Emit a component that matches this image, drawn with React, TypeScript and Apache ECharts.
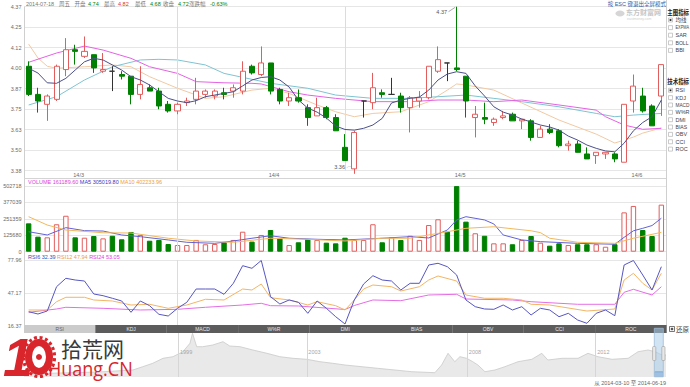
import React, { useEffect, useRef } from 'react';
import * as echarts from 'echarts';

// ---------------- data ----------------
const categories = [
  '2014-02-24','2014-02-25','2014-02-26','2014-02-27','2014-02-28',
  '2014-03-03','2014-03-04','2014-03-05','2014-03-06','2014-03-07',
  '2014-03-10','2014-03-11','2014-03-12','2014-03-13','2014-03-14',
  '2014-03-17','2014-03-18','2014-03-19','2014-03-20','2014-03-21',
  '2014-03-24','2014-03-25','2014-03-26','2014-03-27','2014-03-28',
  '2014-03-31',
  '2014-04-01','2014-04-02','2014-04-03','2014-04-04','2014-04-08','2014-04-09','2014-04-10','2014-04-11',
  '2014-04-14','2014-04-15','2014-04-16','2014-04-17','2014-04-18',
  '2014-04-21','2014-04-22','2014-04-23','2014-04-24','2014-04-25',
  '2014-04-28','2014-04-29',
  '2014-05-05','2014-05-06','2014-05-07','2014-05-08','2014-05-09',
  '2014-05-12','2014-05-13','2014-05-14','2014-05-15','2014-05-16',
  '2014-05-19','2014-05-20','2014-05-21','2014-05-22','2014-05-23',
  '2014-05-26','2014-05-27','2014-05-28','2014-05-29',
  '2014-06-03','2014-06-04','2014-06-05','2014-06-06',
];

// [open, close, low, high]
const candles: number[][] = [
  [4.01,3.84,3.83,4.04],[3.84,3.80,3.73,3.88],[3.78,3.83,3.68,3.84],[3.81,4.01,3.80,4.02],[3.99,4.11,3.95,4.18],
  [4.11,4.10,4.02,4.14],[4.07,4.10,4.06,4.19],[4.08,4.00,3.97,4.08],[3.98,3.99,3.97,4.09],[3.98,3.98,3.86,4.01],
  [3.96,3.95,3.93,3.98],[3.95,3.84,3.78,3.95],[3.84,3.90,3.81,4.01],[3.88,3.86,3.86,3.90],[3.86,3.77,3.75,3.88],
  [3.78,3.74,3.73,3.80],[3.74,3.78,3.72,3.79],[3.79,3.80,3.77,3.82],[3.81,3.86,3.78,3.94],[3.84,3.86,3.82,3.87],
  [3.83,3.86,3.81,3.87],[3.85,3.84,3.81,3.88],[3.86,3.88,3.82,3.90],[3.86,3.98,3.84,4.04],[4.01,3.97,3.96,4.02],
  [3.96,4.03,3.95,4.13],[4.03,3.86,3.84,4.03],[3.87,3.80,3.78,3.88],[3.80,3.82,3.77,3.85],[3.82,3.80,3.79,3.87],
  [3.76,3.70,3.65,3.78],[3.71,3.76,3.71,3.82],[3.76,3.70,3.69,3.77],[3.70,3.62,3.62,3.72],[3.52,3.44,3.44,3.60],
  [3.39,3.61,3.36,3.62],[3.80,3.80,3.70,3.80],[3.79,3.88,3.75,3.97],[3.85,3.84,3.82,3.87],[3.84,3.84,3.84,3.94],
  [3.83,3.76,3.73,3.85],[3.76,3.82,3.61,3.83],[3.80,3.82,3.76,3.86],[3.82,4.01,3.81,4.01],[3.98,4.05,3.97,4.13],
  [4.03,4.03,3.92,4.03],[4.00,3.99,3.98,4.37],[3.95,3.80,3.70,3.95],[3.70,3.72,3.58,3.77],[3.70,3.69,3.66,3.79],
  [3.67,3.69,3.65,3.70],[3.70,3.71,3.69,3.74],[3.72,3.68,3.68,3.73],[3.68,3.69,3.63,3.69],[3.68,3.58,3.56,3.69],
  [3.58,3.63,3.58,3.65],[3.63,3.61,3.60,3.66],[3.62,3.53,3.52,3.63],[3.53,3.54,3.50,3.56],[3.54,3.49,3.49,3.56],
  [3.48,3.45,3.45,3.52],[3.47,3.49,3.42,3.49],[3.48,3.49,3.45,3.49],[3.48,3.45,3.43,3.49],[3.43,3.78,3.43,3.78],
  [3.80,3.89,3.73,3.96],[3.83,3.74,3.73,3.88],[3.77,3.65,3.65,3.78],[3.83,4.02,3.71,4.02],
];
const flatDays = [9, 36, 39, 45];

const volumes = [
  217000,115000,110000,210000,275000,110000,107000,120000,102000,122000,
  95000,151000,128000,84000,90000,59000,51000,51000,90000,57000,
  59000,72000,90000,153000,77000,128000,166000,102000,51000,72000,
  97000,90000,69000,64000,107000,90000,90000,210000,72000,110000,
  90000,122000,90000,204000,248000,153000,502000,230000,141000,122000,
  64000,64000,57000,90000,120000,69000,46000,64000,51000,57000,
  57000,57000,38000,57000,301000,350000,166000,120000,360000,
];
const volumeSide = ('ggrrrgrgrg' + 'ggrgggrrrr' + 'rgrrgrggrg' + 'grgggrrrgr' + 'grrrrgggrg' + 'rrgrgrggrg' + 'grrgrrggr').split('');

const ma5 = [
  3.998,3.969,3.910,3.907,3.937,3.987,4.037,4.058,4.048,4.018,
  3.987,3.947,3.927,3.897,3.856,3.816,3.800,3.790,3.802,3.826,
  3.836,3.846,3.856,3.891,3.927,3.942,3.947,3.927,3.884,3.806,
  3.757,3.733,3.697,3.649,3.628,3.624,3.635,3.655,3.695,3.788,
  3.806,3.816,3.824,3.866,3.927,3.963,3.977,3.967,3.891,3.830,
  3.765,3.733,3.715,3.691,3.673,3.655,3.643,3.624,3.588,3.564,
  3.534,3.514,3.498,3.493,3.545,3.620,3.670,3.705,3.806,
];
const ma10 = [[0,4.144],[1,4.06],[2,4.01],[3,3.998],[6,4.007],[9,4.018],[11,4.007],[13,3.947],[16,3.877],[19,3.816],[21,3.826],[24,3.866],[26,3.877],[28,3.846],[31,3.776],[33,3.735],[35,3.705],[37,3.725],[40,3.735],[43,3.796],[45,3.866],[46,3.903],[47,3.897],[50,3.866],[53,3.788],[57,3.685],[61,3.600],[63,3.546],[64,3.564],[65,3.582],[66,3.606],[68,3.637]];
const ma20 = [[0,3.776],[3,3.826],[6,3.927],[9,4.007],[12,4.048],[14,4.052],[16,4.048],[19,4.018],[21,3.967],[24,3.931],[26,3.907],[30,3.877],[33,3.836],[37,3.816],[41,3.816],[44,3.826],[47,3.836],[50,3.816],[53,3.796],[57,3.765],[61,3.725],[63,3.705],[65,3.715],[68,3.725]];
const ma30 = [[0,4.034],[3,4.090],[6,4.132],[8,4.108],[11,4.058],[13,4.007],[16,3.967],[18,3.917],[21,3.910],[24,3.907],[25,3.903],[28,3.856],[30,3.836],[33,3.816],[37,3.796],[41,3.796],[44,3.806],[47,3.806],[50,3.796],[53,3.806],[57,3.776],[61,3.745],[62,3.705],[64,3.655],[66,3.629],[68,3.635]];

const volMa5 = [[0,153000],[2,128000],[4,184000],[6,161000],[8,158000],[10,128000],[12,115000],[15,90000],[17,72000],[20,64000],[22,82000],[24,103000],[26,122000],[28,103000],[31,95000],[34,90000],[38,103000],[41,115000],[43,105000],[45,166000],[46,243000],[47,268000],[49,243000],[50,212000],[51,128000],[53,90000],[55,77000],[59,64000],[63,57000],[64,110000],[65,160000],[66,179000],[67,200000],[68,256000]];
const volMa10 = [[0,268000],[2,204000],[4,166000],[8,145000],[11,143000],[15,103000],[18,82000],[22,72000],[26,103000],[29,97000],[34,82000],[38,103000],[41,103000],[45,153000],[47,179000],[50,191000],[54,160000],[55,146000],[56,103000],[59,72000],[63,64000],[65,103000],[68,148000]];

const rsi6 = [
  29.35,27.18,30.0,52.85,60.75,59.15,58.21,45.99,44.39,41.95,
  39.41,28.78,39.41,34.99,26.90,25.30,32.54,38.19,50.69,50.69,
  50.69,45.71,56.05,72.60,70.16,77.5,43.45,36.59,40.35,38.19,
  27.84,39.41,32.54,24.64,17.78,40.35,55.39,63.20,59.15,58.21,
  49.75,56.05,56.05,73.26,74.86,71.66,63.86,40.35,34.05,31.89,
  31.60,35.65,30.95,34.05,26.25,32.54,30.95,24.64,27.84,21.54,
  18.44,27.84,30.95,25.58,73.26,77.5,63.86,49.75,71.66,
];
const rsi12 = [[0,30.95],[2,30.95],[3,38.75],[4,42.89],[6,42.89],[7,40.35],[9,39.41],[11,35.65],[13,36.31],[15,32.54],[17,35.65],[19,41.01],[21,40.35],[23,50.69],[24,49.75],[25,55.39],[26,42.51],[28,40.35],[30,35.65],[31,38.75],[33,34.99],[34,30.95],[35,40.35],[36,50.69],[37,54.45],[39,52.85],[40,48.81],[42,52.85],[43,59.15],[44,62.92],[46,58.21],[47,45.05],[49,41.95],[51,41.95],[53,40.35],[54,36.31],[56,35.65],[60,30.0],[63,31.89],[64,59.15],[65,65.45],[66,56.05],[67,49.75],[68,65.45]];
const rsi24 = [[0,28.78],[3,31.89],[4,33.49],[8,32.54],[12,30.95],[16,31.60],[19,33.49],[23,35.65],[25,37.24],[26,34.99],[29,34.71],[34,31.41],[35,35.17],[37,40.35],[40,39.69],[43,45.05],[46,45.71],[47,41.29],[52,40.35],[54,38.75],[59,36.31],[63,36.31],[64,47.59],[65,50.41],[67,45.05],[68,52.85]];

const priceTicks = ['3.38','3.50','3.63','3.75','3.87','4.00','4.12','4.25','4.37'];
const volumeTicks = ['0','125680','251359','377039','502718'];
const rsiTicks = ['16.37','47.17','77.96'];

// long-history navigator (year, level)
const navHistory = [[1994.19,3],[1995.3,4],[1996.5,5],[1997.58,7],[1997.89,10.3],[1998.2,13.7],[1998.52,18.7],[1998.83,20.3],[1999.14,25.3],[1999.36,33.7],[1999.44,43.7],[1999.57,30.3],[1999.76,30.3],[2000.07,32],[2000.39,35.3],[2000.6,31],[2000.92,30.3],[2001.32,27],[2001.76,23.7],[2002.16,20.3],[2002.57,18.7],[2003.0,17.7],[2003.41,15.3],[2003.81,13.7],[2004.19,12],[2005.21,8.7],[2006.27,5.3],[2006.99,4.3],[2007.2,12],[2007.4,23.7],[2007.61,15.3],[2007.77,20.3],[2007.98,18.7],[2008.17,15.3],[2008.33,12],[2008.55,5.3],[2008.86,7],[2009.17,10.3],[2009.58,15.3],[2010.01,17.7],[2010.32,23.7],[2010.51,17],[2010.95,18.7],[2011.45,18.7],[2011.76,23.7],[2012.07,20.3],[2012.51,17.7],[2013.01,18.7],[2013.32,25.3],[2013.63,27],[2013.85,25.3],[2014.07,22],[2014.19,22]];
const navYears = [1999, 2003, 2008, 2012];

const headerParts: [string, number, string][] = [
  ['2014-07-18', 26, '#777'], ['周五', 59, '#777'], ['开盘', 74.5, '#777'], ['4.74', 88, '#008000'],
  ['最高', 104, '#777'], ['4.82', 118, '#e03030'], ['最低', 135, '#777'], ['4.68', 150, '#008000'],
  ['收盘', 163, '#777'], ['4.72', 178, '#008000'], ['涨跌幅', 189, '#777'], ['-0.63%', 210, '#008000'],
];
const mainIndicators = ['均线', 'EXPMA', 'SAR', 'BOLL', 'BBI'];
const techIndicators = ['RSI', 'KDJ', 'MACD', 'W%R', 'DMI', 'BIAS', 'OBV', 'CCI', 'ROC'];

// ---------------- styling helpers ----------------
const SANS = '"Liberation Sans", "Noto Sans CJK SC", sans-serif';
const RED = '#e35d5d';
const GREEN = '#008000';

function txt(x: number, y: number, text: string, fill: string, size = 5.5, align = 'left', weight = 'normal', family = SANS, scaleX = 1): any {
  return {
    type: 'text', x, y, scaleX, silent: true, z: 20,
    style: { text, fill, font: `${weight} ${size}px ${family}`, align, verticalAlign: 'middle', textAlign: align, textVerticalAlign: 'middle' },
  };
}
function hline(x1: number, y1: number, x2: number, y2: number, stroke: string, w = 1): any {
  return { type: 'line', silent: true, z: 15, shape: { x1, y1, x2, y2 }, style: { stroke, lineWidth: w } };
}

function fitScale(text: string, size: number, room: number): number {
  let w = 0;
  for (const ch of text) w += /[\u4e00-\u9fff]/.test(ch) ? size : /[MW%]/.test(ch) ? size * 0.85 : size * 0.66;
  return Math.min(1, room / w);
}

function buildGraphic(): any[] {
  const g: any[] = [];
  headerParts.forEach(([t, x, c]) => g.push(txt(x, 3.8, t, c)));
  g.push(txt(666, 3.8, '按 ESC 键退出全屏模式', '#2a5caa', 5.5, 'right'));
  // eastmoney watermark
  g.push({ type: 'ellipse', silent: true, z: 5, shape: { cx: 620, cy: 13.5, rx: 4.5, ry: 3 }, style: { fill: '#d6d6d6' } });
  g.push(txt(626, 12.8, '东方财富网', '#c6c6c6', 7, 'left', 'bold'));
  g.push(txt(627, 18.6, 'eastmoney.com', '#cfcfcf', 3.5));
  // borders
  g.push(hline(24.5, 6.7, 24.5, 325, '#cfcfcf'));
  g.push(hline(666.5, 0, 666.5, 333, '#cfcfcf'));
  g.push(hline(24, 178.5, 666, 178.5, '#d4d4d4'));
  // volume header
  g.push({
    type: 'text', x: 28, y: 182.4, silent: true, z: 20,
    style: {
      text: '{a|VOLUME 161189.60} {b|MA5 305019.80} {c|MA10 402233.96}',
      font: `5.5px ${SANS}`, verticalAlign: 'middle', textVerticalAlign: 'middle',
      rich: { a: { fill: '#e040e0', color: '#e040e0' }, b: { fill: '#3838c8', color: '#3838c8' }, c: { fill: '#f0a030', color: '#f0a030' } },
    },
  });
  g.push({
    type: 'text', x: 28, y: 256.8, silent: true, z: 20,
    style: {
      text: '{a|RSI6 32.39} {b|RSI12 47.94} {c|RSI24 53.05}',
      font: `5.5px ${SANS}`, verticalAlign: 'middle', textVerticalAlign: 'middle',
      rich: { a: { fill: '#3050c0', color: '#3050c0' }, b: { fill: '#f0a030', color: '#f0a030' }, c: { fill: '#e040e0', color: '#e040e0' } },
    },
  });
  // right side panel
  const box = (y: number, checked: boolean) => {
    g.push({ type: 'rect', silent: true, z: 20, shape: { x: 668.5, y: y - 2, width: 4, height: 4 }, style: { fill: '#fff', stroke: '#a8a8a8', lineWidth: 0.6 } });
    if (checked) g.push({ type: 'rect', silent: true, z: 21, shape: { x: 669.6, y: y - 0.9, width: 1.8, height: 1.8 }, style: { fill: '#222' } });
  };
  g.push(txt(667.3, 13.3, '主图指标', '#222', 6.5, 'left', 'bold', SANS, fitScale('主图指标', 6.5, 21.8)));
  mainIndicators.forEach((t, i) => { const y = 20 + i * 7.6; box(y, i === 0); g.push(txt(675.5, y, t, '#444', 5.5, 'left', 'normal', SANS, fitScale(t, 5.5, 13.5))); });
  g.push(txt(667.3, 81.7, '技术指标', '#222', 6.5, 'left', 'bold', SANS, fitScale('技术指标', 6.5, 21.8)));
  techIndicators.forEach((t, i) => { const y = 90.3 + i * 7.35; box(y, i === 0); g.push(txt(675.5, y, t, '#444', 5.5, 'left', 'normal', SANS, fitScale(t, 5.5, 13.5))); });
  // tab bar
  const tw = 71.4;
  techIndicators.forEach((t, i) => {
    const x = 24 + i * tw;
    g.push({ type: 'rect', silent: true, z: 18, shape: { x, y: 325, width: tw, height: 8 }, style: { fill: i === 0 ? '#cbcbcb' : '#5c5c5c' } });
    g.push(txt(x + tw / 2, 329, t, i === 0 ? '#666' : '#e8e8e8', 5, 'center'));
    if (i > 0) g.push(hline(x + 0.5, 325, x + 0.5, 333, '#8c8c8c', 0.8));
  });
  g.push({ type: 'rect', silent: true, z: 20, shape: { x: 669.5, y: 326.5, width: 5, height: 5 }, style: { fill: '#fff', stroke: '#555', lineWidth: 0.8 } });
  g.push({ type: 'rect', silent: true, z: 21, shape: { x: 670.8, y: 327.8, width: 2.4, height: 2.4 }, style: { fill: '#555' } });
  g.push(txt(676, 329, '还原', '#444', 6.5));
  // navigator selection window
  g.push({ type: 'rect', silent: true, z: 30, shape: { x: 654.3, y: 328.3, width: 9, height: 48.5 }, style: { fill: 'rgba(170,205,235,0.55)', stroke: '#9dbbd8', lineWidth: 0.8 } });
  g.push({ type: 'rect', silent: true, z: 31, shape: { x: 654.6, y: 372, width: 8.4, height: 4.6 }, style: { fill: 'rgba(110,160,215,0.45)' } });
  g.push(hline(654.6, 371.8, 663, 371.8, '#4a7fc0', 1));
  g.push({ type: 'rect', silent: true, z: 32, shape: { x: 652.6, y: 346.5, width: 3.2, height: 14, r: 1 }, style: { fill: '#e8e8e8', stroke: '#9a9a9a', lineWidth: 0.6 } });
  g.push({ type: 'rect', silent: true, z: 32, shape: { x: 661.8, y: 346.5, width: 3.2, height: 14, r: 1 }, style: { fill: '#e8e8e8', stroke: '#9a9a9a', lineWidth: 0.6 } });
  g.push(txt(666, 383.4, '从 2014-03-10 至 2014-06-19', '#666', 5.5, 'right'));
  // site logo
  g.push({ type: 'text', x: 3, y: 357, silent: true, z: 40, style: { text: '1', fill: '#d8262c', font: `italic bold 54px "Liberation Sans"`, verticalAlign: 'middle', textVerticalAlign: 'middle' } });
  g.push({ type: 'ellipse', silent: true, z: 40, shape: { cx: 39, cy: 357, rx: 15.5, ry: 19.5 }, style: { fill: 'none', stroke: '#d8262c', lineWidth: 3.2, lineDash: [3, 2.6] } });
  g.push({ type: 'ellipse', silent: true, z: 40, shape: { cx: 39, cy: 357, rx: 10.5, ry: 14.5 }, style: { fill: 'none', stroke: '#d8262c', lineWidth: 7 } });
  g.push({ type: 'circle', silent: true, z: 41, shape: { cx: 39, cy: 357, r: 3 }, style: { fill: '#d8262c' } });
  g.push(txt(61, 348, '拾荒网', '#3a3a3a', 21, 'left', 'normal', '"Noto Sans CJK SC", sans-serif'));
  g.push({ type: 'text', x: 48, y: 368.5, scaleX: 0.9, silent: true, z: 40, style: { text: 'Huang.CN', fill: '#d8262c', font: `20px "Open Sans", sans-serif`, verticalAlign: 'middle', textVerticalAlign: 'middle' } });
  return g;
}

function helperAxis(gridIndex: number, ticks: string[]): any {
  return {
    type: 'value', gridIndex, position: 'left', min: 0, max: ticks.length - 1, interval: 1,
    axisLine: { show: false }, axisTick: { show: false },
    axisLabel: { formatter: (v: number) => ticks[Math.round(v)] ?? '', fontSize: 5.5, color: '#6a6a6a', margin: 2.5, fontFamily: 'Liberation Sans' },
    splitLine: { show: true, lineStyle: { color: '#e6e6e6', width: 1 } },
  };
}

function maLine(name: string, data: any[], color: string, xi: number, yi: number, z = 3): any {
  return { name, type: 'line', xAxisIndex: xi, yAxisIndex: yi, data, symbol: 'none', smooth: false, z, lineStyle: { color, width: 1 }, silent: true };
}

const dayGuide = (idxs: number[]) => ({
  silent: true, symbol: ['none', 'none'], label: { show: false },
  lineStyle: { color: '#dcdcdc', width: 1, type: 'solid' },
  data: idxs.map((i) => ({ xAxis: categories[i] })),
});

export default function App() {
  const ref = useRef<HTMLDivElement>(null);
  useEffect(() => {
    document.body.style.margin = '0';
    if (!ref.current) return;
    const chart = echarts.init(ref.current, undefined, { renderer: 'svg' });

    const priceMin = Number(priceTicks[0]);
    const priceMax = Number(priceTicks[priceTicks.length - 1]);
    const volMax = Number(volumeTicks[volumeTicks.length - 1]);
    const rsiMin = Number(rsiTicks[0]);
    const rsiMax = Number(rsiTicks[rsiTicks.length - 1]);

    let minIdx = 0;
    candles.forEach((c, i) => { if (c[2] < candles[minIdx][2]) minIdx = i; });

    const candleData = candles.map((c, i) =>
      flatDays.includes(i)
        ? { value: c, itemStyle: { color: '#333', color0: '#333', borderColor: '#333', borderColor0: '#333' } }
        : c,
    );
    const volData = volumes.map((v, i) => ({
      value: v,
      itemStyle: volumeSide[i] === 'r'
        ? { color: '#fff', borderColor: RED, borderWidth: 1 }
        : { color: GREEN, borderColor: GREEN, borderWidth: 1 },
    }));

    const monthLabel = (i: number) => i > 0 && categories[i].slice(5, 7) !== categories[i - 1].slice(5, 7);

    const option: any = {
      animation: false,
      backgroundColor: '#ffffff',
      grid: [
        { left: 24, right: 24, top: 6.7, height: 163.8 },
        { left: 24, right: 24, top: 186, height: 65.7 },
        { left: 24, right: 24, top: 260, height: 65.5 },
        { left: 24, right: 24, top: 332, height: 45 },
      ],
      xAxis: [
        {
          type: 'category', gridIndex: 0, data: categories, boundaryGap: true,
          axisLine: { show: false }, axisTick: { show: false }, splitLine: { show: false },
          axisLabel: {
            interval: (i: number) => monthLabel(i),
            formatter: (v: string) => v.slice(2, 4) + '/' + Number(v.slice(5, 7)),
            fontSize: 5.5, color: '#6a6a6a', margin: 1.5, padding: [0, 0, 0, 7], fontFamily: 'Liberation Sans',
          },
        },
        { type: 'category', gridIndex: 1, data: categories, boundaryGap: true, show: false },
        { type: 'category', gridIndex: 2, data: categories, boundaryGap: true, show: false },
        { type: 'value', gridIndex: 3, min: navHistory[0][0], max: navHistory[navHistory.length - 1][0], show: false },
      ],
      yAxis: [
        { type: 'value', gridIndex: 0, min: priceMin, max: priceMax, show: false, position: 'right' },
        helperAxis(0, priceTicks),
        { type: 'value', gridIndex: 1, min: 0, max: volMax, show: false, position: 'right' },
        helperAxis(1, volumeTicks),
        { type: 'value', gridIndex: 2, min: rsiMin, max: rsiMax, show: false, position: 'right' },
        helperAxis(2, rsiTicks),
        { type: 'value', gridIndex: 3, min: 0, max: 45, show: false },
      ],
      series: [
        {
          name: 'K', type: 'candlestick', xAxisIndex: 0, yAxisIndex: 0, data: candleData, barWidth: 5.6, z: 5,
          itemStyle: { color: '#ffffff', color0: GREEN, borderColor: RED, borderColor0: GREEN, borderWidth: 1 },
          markLine: dayGuide([16, 34]),
          markPoint: {
            silent: true,
            data: [
              {
                type: 'max', valueDim: 'highest', symbol: 'path://M0,10L10,0', symbolSize: [6.7, 4.4], symbolOffset: [-4.8, 2.8],
                itemStyle: { color: 'transparent', borderColor: '#888', borderWidth: 0.7 },
                label: { show: true, position: 'left', distance: 1, offset: [0, 2.5], formatter: (p: any) => Number(p.value).toFixed(2), fontSize: 5.5, color: '#555', fontFamily: 'Liberation Sans' },
              },
              {
                coord: [minIdx, priceMin], value: candles[minIdx][2], symbol: 'path://M0,3L10,0', symbolSize: [6, 1.5], symbolOffset: [-4.6, -4],
                itemStyle: { color: 'transparent', borderColor: '#888', borderWidth: 0.7 },
                label: { show: true, position: 'left', distance: 1, offset: [0, 0.5], formatter: (p: any) => Number(p.value).toFixed(2), fontSize: 5.5, color: '#555', fontFamily: 'Liberation Sans' },
              },
            ],
          },
        },
        maLine('MA5', ma5, '#4b5089', 0, 0, 6),
        maLine('MA10', ma10, '#f2c9a3', 0, 0),
        maLine('MA20', ma20, '#7ec4d2', 0, 0),
        maLine('MA30', ma30, '#e463e4', 0, 0),
        {
          name: 'VOL', type: 'bar', xAxisIndex: 1, yAxisIndex: 2, data: volData, barWidth: 5.4, z: 2,
          markLine: dayGuide([16]),
        },
        maLine('VMA5', volMa5, '#6262d6', 1, 2, 4),
        maLine('VMA10', volMa10, '#f2b85a', 1, 2, 4),
        { ...maLine('RSI6', rsi6, '#5656c4', 2, 4, 6), markLine: dayGuide([16]) },
        maLine('RSI12', rsi12, '#f2b566', 2, 4, 5),
        maLine('RSI24', rsi24, '#e56ee5', 2, 4, 4),
        {
          name: 'NAV', type: 'line', xAxisIndex: 3, yAxisIndex: 6, data: navHistory, symbol: 'none', silent: true,
          lineStyle: { color: '#c9c9c9', width: 0.8 }, areaStyle: { color: '#e9e9e9', opacity: 1 },
          markLine: {
            silent: true, symbol: ['none', 'none'], label: { show: false },
            lineStyle: { color: '#d6d6d6', width: 1, type: 'solid' },
            data: navYears.map((y) => ({ xAxis: y })),
          },
          markPoint: {
            silent: true,
            data: navYears.map((y) => ({
              coord: [y, 24.7], value: y, symbol: 'circle', symbolSize: 0.1,
              label: { show: true, position: 'right', distance: 1.5, formatter: String(y), fontSize: 5.5, color: '#a6a6a6', fontFamily: 'Liberation Sans' },
            })),
          },
        },
      ],
      graphic: buildGraphic(),
    };
    chart.setOption(option);
    return () => chart.dispose();
  }, []);
  return <div ref={ref} style={{ width: 690, height: 387 }} />;
}
